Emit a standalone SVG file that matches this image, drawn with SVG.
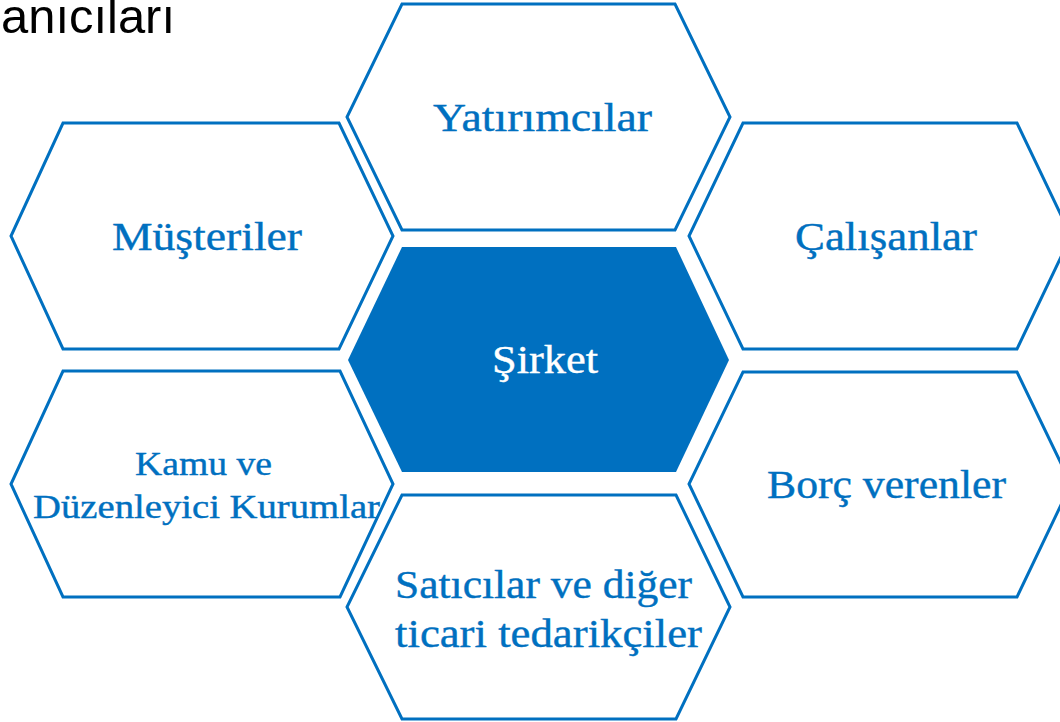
<svg xmlns="http://www.w3.org/2000/svg" width="1060" height="722" viewBox="0 0 1060 722">
<style>
.hex{fill:#ffffff;stroke:#0070C0;stroke-width:3;stroke-linejoin:miter}
.core{fill:#0070C0;stroke:none}
.lbl{font-family:"Liberation Serif","DejaVu Serif",serif;fill:#0070C0;text-anchor:middle;stroke:#0070C0;stroke-width:0.4}
.title{font-family:"Liberation Sans",Arial,sans-serif;font-size:48px;fill:#000000}
</style>
<rect width="1060" height="722" fill="#ffffff"/>
<text class="title" x="1" y="33" textLength="174" lengthAdjust="spacingAndGlyphs">anıcıları</text>
<g id="yatirimcilar">
<polygon class="hex" points="402,4 675,4 730,117 675,230 402,230 347,117"/>
<text class="lbl" x="542.5" y="131" font-size="40" textLength="219" lengthAdjust="spacingAndGlyphs">Yatırımcılar</text>
</g>
<g id="musteriler">
<polygon class="hex" points="63,123 339,123 393,236 339,349 63,349 11,236"/>
<text class="lbl" x="207" y="250" font-size="40" textLength="190" lengthAdjust="spacingAndGlyphs">Müşteriler</text>
</g>
<g id="calisanlar">
<polygon class="hex" points="743,123 1017,123 1071,236 1017,349 743,349 689,236"/>
<text class="lbl" x="886" y="250" font-size="40" textLength="182" lengthAdjust="spacingAndGlyphs">Çalışanlar</text>
</g>
<g id="sirket">
<polygon class="core" points="402,247 676,247 729,360 676,472 402,472 348,360"/>
<text class="lbl" x="545" y="373" font-size="40" style="fill:#ffffff;stroke:#ffffff" textLength="106" lengthAdjust="spacingAndGlyphs">Şirket</text>
</g>
<g id="kamu">
<polygon class="hex" points="63,371 340,371 393,484 340,597 63,597 11,484"/>
<text class="lbl" x="203.5" y="475" font-size="34" textLength="137" lengthAdjust="spacingAndGlyphs">Kamu ve</text>
<text class="lbl" x="206.5" y="518" font-size="34" textLength="347" lengthAdjust="spacingAndGlyphs">Düzenleyici Kurumlar</text>
</g>
<g id="borc">
<polygon class="hex" points="743,372 1017,372 1071,484 1017,597 743,597 689,484"/>
<text class="lbl" x="886.5" y="498" font-size="40" textLength="239" lengthAdjust="spacingAndGlyphs">Borç verenler</text>
</g>
<g id="saticilar">
<polygon class="hex" points="402,495 676,495 730,607 676,719 402,719 347,607"/>
<text class="lbl" x="543.5" y="598" font-size="40" textLength="297" lengthAdjust="spacingAndGlyphs">Satıcılar ve diğer</text>
<text class="lbl" x="548.5" y="647" font-size="40" textLength="307" lengthAdjust="spacingAndGlyphs">ticari tedarikçiler</text>
</g>
<g id="connectors"></g>
</svg>
